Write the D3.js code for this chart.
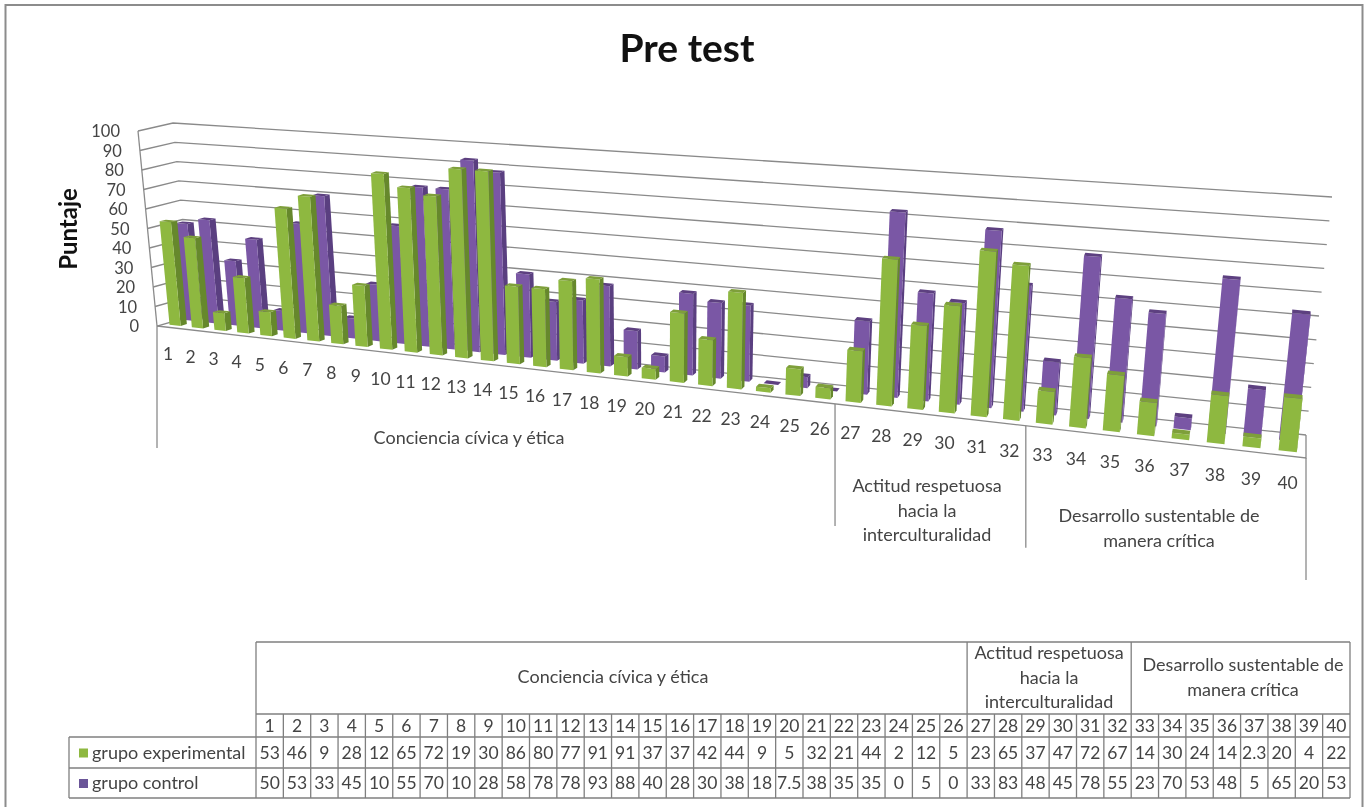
<!DOCTYPE html>
<html lang="es">
  <head>
    <meta charset="UTF-8" />
    <title>Pre test</title>
    <script src="https://d3js.org/d3.v7.min.js"></script>
    <style>
      html, body { margin: 0; padding: 0; background: #fff; }
      svg { display: block; filter: blur(0.45px); }
      text { font-family: Lato, "Open Sans", sans-serif; fill: #444; }
    </style>
  </head>
  <body>
    <div id="chart"></div>
    <script>
      const items = d3.range(1, 41);
      const grupoExperimental = [53,46,9,28,12,65,72,19,30,86,80,77,91,91,37,37,42,44,9,5,32,21,44,2,12,5,23,65,37,47,72,67,14,30,24,14,2.3,20,4,22];
      const grupoControl = [50,53,33,45,10,55,70,10,28,58,78,78,93,88,40,28,30,38,18,7.5,38,35,35,0,5,0,33,83,48,45,78,55,23,70,53,48,5,65,20,53];
      const valueTicks = [0,10,20,30,40,50,60,70,80,90,100];
      const groupNames = [
        ["Conciencia cívica y ética"],
        ["Actitud respetuosa", "hacia la", "interculturalidad"],
        ["Desarrollo sustentable de", "manera crítica"]
      ];
      const groupCounts = [26, 6, 8];

      const W = 1365, H = 807;
      const svg = d3.select("#chart").append("svg").attr("width", W).attr("height", H);

      // outer frame
      svg.append("rect").attr("x", 5.5).attr("y", 5).attr("width", 1357).attr("height", 812)
        .attr("fill", "none").attr("stroke", "#8c8c8c").attr("stroke-width", 2);

      svg.append("text").attr("x", 687).attr("y", 62).attr("text-anchor", "middle")
        .attr("font-size", 39).attr("font-weight", 700).style("fill", "#111").text("Pre test");
      svg.append("text").attr("transform", "translate(77,229) rotate(-90)").attr("text-anchor", "middle")
        .attr("font-size", 24).attr("font-weight", 700).style("fill", "#111").text("Puntaje");

      // box corners of the 3d plot, [x, y]; f front, b back, l left, r right, 0 floor, 1 top
      const corners = {
        fl0: [157, 326], fl1: [138, 131], bl0: [192, 316], bl1: [173, 123],
        fr0: [1306, 458], fr1: [1332, 213], br0: [1306, 435], br1: [1332, 197]
      };
      const mix = (a, b, t) => [a[0] + (b[0] - a[0]) * t, a[1] + (b[1] - a[1]) * t];

      // u 0..1 along the items, d 0..1 front to back, h 0..1 floor to top
      const perspective = 1.29;
      const warp = u => u / (u + (1 - u) * perspective);
      function project(u, d, h) {
        const t = warp(u);
        const f0 = mix(corners.fl0, corners.fr0, t), f1 = mix(corners.fl1, corners.fr1, t);
        const b0 = mix(corners.bl0, corners.br0, t), b1 = mix(corners.bl1, corners.br1, t);
        return mix(mix(f0, b0, d), mix(f1, b1, d), h);
      }

      const band = d3.scaleBand().domain(items).range([0, 1]).paddingInner(0.5).paddingOuter(0.25);
      const yScale = d3.scaleLinear().domain([0, 100]).range([0, 1]);
      const line = d3.line();

      // walls
      const grid = svg.append("g").attr("fill", "none").attr("stroke", "#8a8a8a").attr("stroke-width", 1.3);
      valueTicks.forEach(v => {
        const h = yScale(v);
        grid.append("path").attr("d", line([project(0, 0, h), project(0, 1, h), project(1, 1, h)]));
      });
      grid.append("path").attr("d", line([project(0, 0, 0), project(0, 0, 1)]));
      grid.append("path").attr("d", line([project(0, 0, 0), project(1, 0, 0), project(1, 1, 0)]));

      svg.append("g").selectAll("text").data(valueTicks).join("text")
        .attr("x", d => project(0, 0, yScale(d))[0] - 18)
        .attr("y", d => project(0, 0, yScale(d))[1] + 6)
        .attr("text-anchor", "end").attr("font-size", 16.5).text(d => d);

      function drawRow(values, d0, d1, colors) {
        const g = svg.append("g");
        values.forEach((v, i) => {
          const u0 = band(items[i]), u1 = u0 + band.bandwidth(), h = yScale(v);
          const quad = pts => g.append("path").attr("d", line(pts) + "Z");
          quad([project(u1, d0, 0), project(u1, d1, 0), project(u1, d1, h), project(u1, d0, h)]).attr("fill", colors.side);
          quad([project(u0, d0, 0), project(u1, d0, 0), project(u1, d0, h), project(u0, d0, h)]).attr("fill", colors.front);
          quad([project(u0, d0, h), project(u1, d0, h), project(u1, d1, h), project(u0, d1, h)]).attr("fill", colors.top);
        });
      }
      drawRow(grupoControl, 0.66, 0.84, { front: "#7a57a5", side: "#5a3f80", top: "#5d4080" });
      drawRow(grupoExperimental, 0.2, 0.38, { front: "#8eb840", side: "#66882c", top: "#7e9f3a" });

      // item labels under the floor
      svg.append("g").selectAll("text").data(items).join("text")
        .attr("x", d => project(band(d) + band.bandwidth() / 2, 0, 0)[0])
        .attr("y", d => project(band(d) + band.bandwidth() / 2, 0, 0)[1] + 33)
        .attr("text-anchor", "middle").attr("font-size", 17.5).text(d => d);

      // group dividers and labels under the floor
      const groupEdges = [0].concat(Array.from(d3.cumsum(groupCounts)));
      svg.append("g").selectAll("path").data(groupEdges).join("path")
        .attr("fill", "none").attr("stroke", "#8a8a8a").attr("stroke-width", 1.3)
        .attr("d", d => {
          const p = project(d / items.length, 0, 0);
          return line([p, [p[0], p[1] + 122]]);
        });
      const groupLabelPos = [[469, 444], [927, 492], [1159, 522]];
      groupNames.forEach((lines, k) => {
        svg.append("g").selectAll("text").data(lines).join("text")
          .attr("x", groupLabelPos[k][0])
          .attr("y", (d, i) => groupLabelPos[k][1] + i * 24.5)
          .attr("text-anchor", "middle").attr("font-size", 18).text(d => d);
      });

      // data table
      const col = d3.scaleBand().domain(items).range([256, 1350]);
      const rowY = [642, 714, 737, 768, 798];
      const legendX = 69;
      const table = svg.append("g").attr("fill", "none").attr("stroke", "#7f7f7f").attr("stroke-width", 1.3);
      table.append("path").attr("d", line([[256, rowY[0]], [1350, rowY[0]]]));
      table.append("path").attr("d", line([[256, rowY[1]], [1350, rowY[1]]]));
      rowY.slice(2).forEach(y => table.append("path").attr("d", line([[legendX, y], [1350, y]])));
      table.append("path").attr("d", line([[legendX, rowY[2]], [legendX, rowY[4]]]));
      // column lines; only group borders reach the top row
      d3.range(0, items.length + 1).forEach(i => {
        const x = 256 + i * col.step();
        table.append("path").attr("d", line([[x, groupEdges.includes(i) ? rowY[0] : rowY[1]], [x, rowY[4]]]));
      });

      const cellText = (selection, y) => selection
        .attr("x", (d, i) => col(items[i]) + col.bandwidth() / 2)
        .attr("y", y).attr("text-anchor", "middle").attr("font-size", 17.5).text(d => d);
      svg.append("g").selectAll("text").data(items).join("text").call(cellText, 732);
      svg.append("g").selectAll("text").data(grupoExperimental).join("text").call(cellText, 759);
      svg.append("g").selectAll("text").data(grupoControl).join("text").call(cellText, 789);

      const tableGroupPos = [[613, 683], [1049, 659], [1243, 671]];
      groupNames.forEach((lines, k) => {
        svg.append("g").selectAll("text").data(lines).join("text")
          .attr("x", tableGroupPos[k][0])
          .attr("y", (d, i) => tableGroupPos[k][1] + i * 24.5)
          .attr("text-anchor", "middle").attr("font-size", 18).text(d => d);
      });

      // legend keys in the table
      const legendRows = [["grupo experimental", "#8eb840", 752.5], ["grupo control", "#6a5598", 783]];
      legendRows.forEach(([name, color, y]) => {
        svg.append("rect").attr("x", 79).attr("y", y - 4).attr("width", 9).attr("height", 9).attr("fill", color);
        svg.append("text").attr("x", 92).attr("y", y + 6).attr("font-size", 18).text(name);
      });
    </script>
  </body>
</html>
